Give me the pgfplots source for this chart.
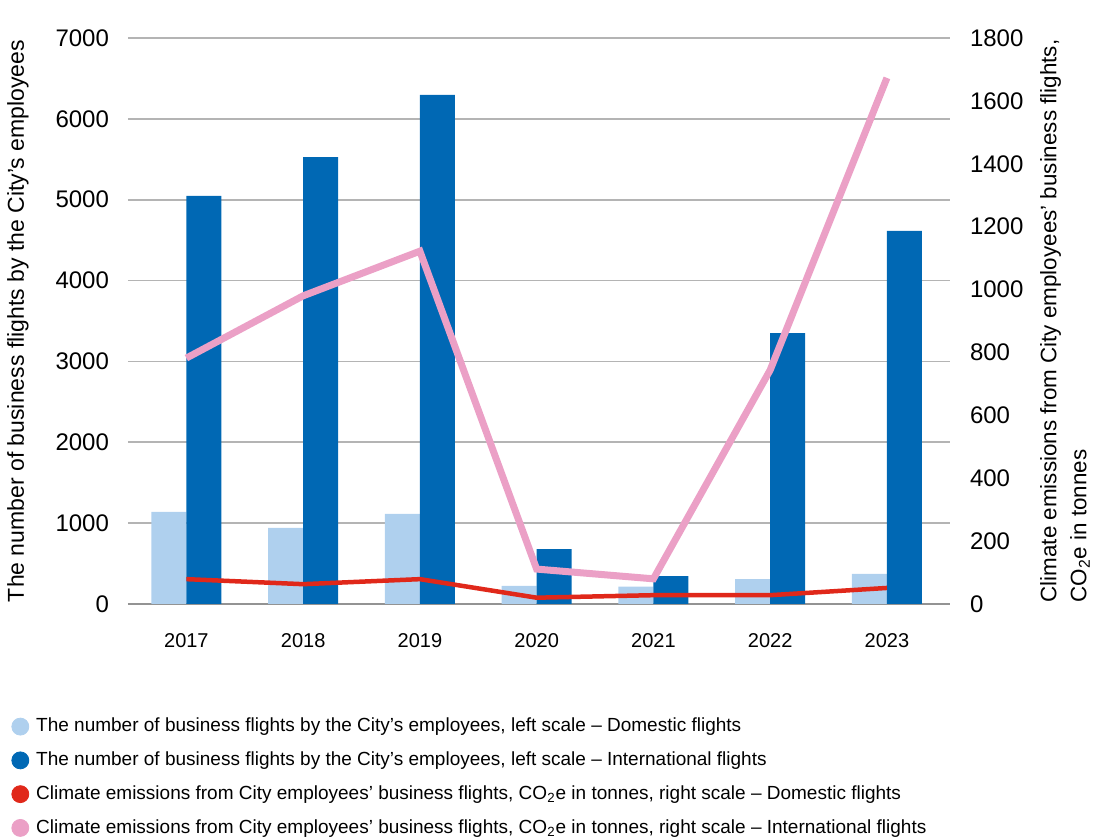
\documentclass[border=0pt]{standalone}
\usepackage{pgfplots}
\pgfplotsset{compat=1.18}
\usepackage{fontspec}
\setmainfont{Liberation Sans}
\definecolor{lblue}{HTML}{AFD0EE}
\definecolor{dblue}{HTML}{0068B4}
\definecolor{cred}{HTML}{E0281A}
\definecolor{cpink}{HTML}{EBA0C6}
\definecolor{grid}{HTML}{B4B4B4}
\begin{document}
\begin{tikzpicture}
\pgfplotsset{
  every axis/.append style={
    scale only axis, width=411pt, height=283pt,
    xmin=-0.5, xmax=6.54,
    /pgf/number format/assume math mode=true,
    /pgf/number format/1000 sep={},
    major tick length=0pt,
    tick label style={font=\fontsize{12}{14}\selectfont},
  }
}
\begin{axis}[
  ymin=0, ymax=7000,
  ytick={1000,2000,3000,4000,5000,6000,7000},
  extra y ticks={0},
  extra y tick style={grid style={draw=gray!85, line width=1.2pt}},
  ymajorgrids, grid style={draw=grid, line width=0.8pt},
  axis line style={draw=none},
  xtick={0,1,2,3,4,5,6},
  xticklabels={2017,2018,2019,2020,2021,2022,2023},
  xticklabel style={yshift=-11pt, font=\fontsize{10}{12}\selectfont},
  yticklabel style={xshift=-6pt},
  ylabel={The number of business flights by the City's employees},
  ylabel style={at={(axis description cs:-0.1338,0.5)}, anchor=center, font=\fontsize{11.5}{13}\selectfont},
  ybar=0pt, bar width=17.5pt,
]
\addplot[fill=lblue, draw=none] coordinates {(0,1138) (1,940) (2,1113) (3,223) (4,214) (5,309) (6,371)};
\addplot[fill=dblue, draw=none] coordinates {(0,5046) (1,5528) (2,6295) (3,680) (4,346) (5,3351) (6,4613)};
\end{axis}
\begin{axis}[
  ymin=0, ymax=1800,
  ytick={0,200,400,600,800,1000,1200,1400,1600,1800},
  axis x line=none,
  axis y line*=right,
  axis line style={draw=none},
  yticklabel style={xshift=6.5pt},
  ylabel={Climate emissions from City employees' business flights,\\CO\textsubscript{2}e in tonnes},
  ylabel style={at={(axis description cs:1.140,0.5)}, anchor=center, align=left, rotate=0, font=\fontsize{11.2}{15}\selectfont},
  legend style={at={(axis description cs:-0.1496,-0.187)}, anchor=north west, draw=none, fill=none,
    font=\fontsize{9.5}{11}\selectfont, row sep=4.5pt, cells={anchor=west}},
]
\addlegendimage{legend image code/.code={\fill[lblue] (4.25pt,0pt) circle (4.25pt); \path (10pt,0pt);}}
\addlegendentry{The number of business flights by the City’s employees, left scale – Domestic flights}
\addlegendimage{legend image code/.code={\fill[dblue] (4.25pt,0pt) circle (4.25pt); \path (10pt,0pt);}}
\addlegendentry{The number of business flights by the City’s employees, left scale – International flights}
\addlegendimage{legend image code/.code={\fill[cred] (4.25pt,0pt) circle (4.25pt); \path (10pt,0pt);}}
\addlegendentry{Climate emissions from City employees’ business flights, CO\textsubscript{2}e in tonnes, right scale – Domestic flights}
\addlegendimage{legend image code/.code={\fill[cpink] (4.25pt,0pt) circle (4.25pt); \path (10pt,0pt);}}
\addlegendentry{Climate emissions from City employees’ business flights, CO\textsubscript{2}e in tonnes, right scale – International flights}
\addplot[draw=cpink, line width=3.5pt, forget plot] coordinates {(0,782) (1,980) (2,1122) (3,111) (4,80) (5,744) (6,1673)};
\addplot[draw=cred, line width=2.25pt, forget plot] coordinates {(0,79) (1,63) (2,79) (3,20) (4,28) (5,28) (6,51)};
\end{axis}
\pgfresetboundingbox
\path[use as bounding box] (-64pt,-117pt) rectangle (486pt,302pt);
\end{tikzpicture}
\end{document}
